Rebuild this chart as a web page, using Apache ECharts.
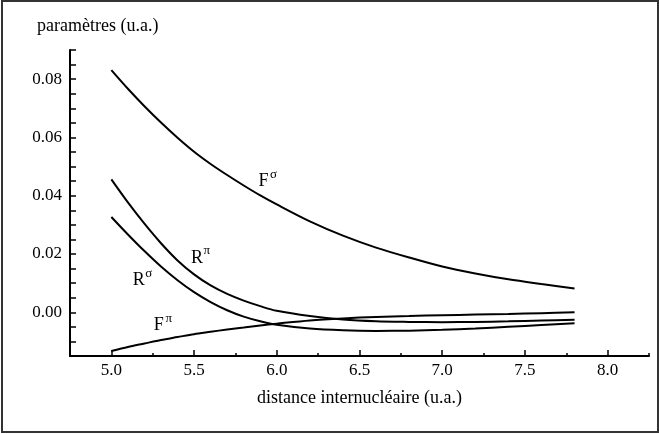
<!DOCTYPE html>
<html>
<head>
<meta charset="utf-8">
<script src="https://cdn.jsdelivr.net/npm/echarts@6/dist/echarts.min.js"></script>
<style>
  html, body { margin: 0; padding: 0; background: #fff; }
  #wrap { position: relative; width: 659px; height: 434px; }
  #chart { position: absolute; left: 0; top: 0; width: 659px; height: 434px; }
  #frame { position: absolute; left: 1px; top: 0; width: 654px; height: 429px; border: 2px solid #333; pointer-events: none; }
</style>
</head>
<body>
<div id="wrap"><div id="chart"></div><div id="frame"></div></div>
<script>
// ---- data ----
const distance = [5.0, 5.1, 5.2, 5.3, 5.4, 5.5, 5.6, 5.7, 5.8, 5.9, 6.0, 6.2, 6.4, 6.6, 6.8, 7.0, 7.2, 7.4, 7.6, 7.8];
const Fsigma = [0.0831, 0.0767, 0.0707, 0.0651, 0.0599, 0.0551, 0.0509, 0.0471, 0.0435, 0.0401, 0.0370, 0.0312, 0.0263, 0.0222, 0.0188, 0.0157, 0.0133, 0.0113, 0.0097, 0.0082];
const Rpi    = [0.0456, 0.0377, 0.0304, 0.0237, 0.0178, 0.0130, 0.0092, 0.0063, 0.0040, 0.0021, 0.0005, -0.0013, -0.0025, -0.0031, -0.0033, -0.0034, -0.0033, -0.0031, -0.0028, -0.0026];
const Rsigma = [0.0327, 0.0267, 0.0210, 0.0157, 0.0110, 0.0069, 0.0035, 0.0007, -0.0015, -0.0031, -0.0043, -0.0056, -0.0062, -0.0064, -0.0063, -0.0060, -0.0056, -0.0050, -0.0044, -0.0038];
const Fpi    = [-0.0133, -0.0119, -0.0107, -0.0095, -0.0085, -0.0075, -0.0067, -0.0059, -0.0052, -0.0045, -0.0039, -0.0028, -0.0021, -0.0016, -0.0013, -0.0010, -0.0008, -0.0006, -0.0003, 0.0000];
const xMajorTicks = [5.0, 5.5, 6.0, 6.5, 7.0, 7.5, 8.0];
const yLabelTicks = [0.00, 0.02, 0.04, 0.06, 0.08];
const seriesNames = ['Fσ', 'Rπ', 'Rσ', 'Fπ'];
const curveLabels = [
  { base: 'F', sup: 'σ' },
  { base: 'R', sup: 'π' },
  { base: 'R', sup: 'σ' },
  { base: 'F', sup: 'π' }
];
// label anchor positions (data coordinates of the base letter)
const labelAnchors = [[5.92, 0.0449], [5.517, 0.0187], [5.166, 0.0110], [5.287, -0.0046]];

// ---- chart ----
const FONT = 'Liberation Serif, Times New Roman, serif';
const pairs = a => distance.map((x, i) => [x, a[i]]);
const allValues = [Fsigma, Rpi, Rsigma, Fpi];

const chart = echarts.init(document.getElementById('chart'), null, { renderer: 'canvas' });

const series = allValues.map((vals, k) => ({
  name: seriesNames[k],
  type: 'line',
  data: pairs(vals),
  xAxisIndex: 0,
  yAxisIndex: 0,
  showSymbol: false,
  smooth: 0.3,
  lineStyle: { color: '#000', width: 2 },
  markPoint: {
    symbol: 'circle',
    symbolSize: 0,
    silent: true,
    data: [
      {
        coord: labelAnchors[k],
        label: { show: true, position: 'inside', formatter: curveLabels[k].base,
                 fontFamily: FONT, fontSize: 18, color: '#000' }
      },
      {
        coord: labelAnchors[k],
        label: { show: true, position: 'inside', formatter: curveLabels[k].sup, offset: [10, -7],
                 fontFamily: FONT, fontSize: 13, color: '#000' }
      }
    ]
  }
}));

const near = (v, arr) => arr.some(t => Math.abs(t - v) < 1e-9);

const option = {
  animation: false,
  backgroundColor: '#fff',
  textStyle: { fontFamily: FONT },
  grid: { left: 70, right: 10, top: 50, bottom: 78, containLabel: false },
  xAxis: [
    {
      type: 'value', position: 'bottom',
      min: 4.75, max: 8.25, interval: 0.25,
      name: 'distance internucléaire (u.a.)',
      nameLocation: 'middle', nameGap: 33,
      nameTextStyle: { fontFamily: FONT, fontSize: 18, color: '#000' },
      axisLine: { show: true, onZero: false, lineStyle: { color: '#000', width: 2 } },
      axisTick: { show: true, inside: true, length: 3, lineStyle: { color: '#000', width: 1.5 } },
      axisLabel: {
        show: true, margin: 6, color: '#000', fontFamily: FONT, fontSize: 17,
        formatter: v => near(v, xMajorTicks) ? v.toFixed(1) : ''
      },
      splitLine: { show: false }
    },
    {
      type: 'value', position: 'bottom', offset: 0,
      min: 4.75, max: 8.25, interval: 0.25,
      axisLine: { show: false, onZero: false },
      axisTick: { show: true, inside: true, length: 6, customValues: xMajorTicks, lineStyle: { color: '#000', width: 1.5 } },
      axisLabel: { show: false },
      splitLine: { show: false }
    }
  ],
  yAxis: [
    {
      type: 'value',
      min: -0.015, max: 0.09, interval: 0.005,
      name: 'paramètres (u.a.)',
      nameLocation: 'end', nameGap: 24,
      nameTextStyle: { fontFamily: FONT, fontSize: 18, color: '#000', align: 'left', verticalAlign: 'middle', padding: [0, 0, 0, -33] },
      axisLine: { show: true, onZero: false, lineStyle: { color: '#000', width: 2 } },
      axisTick: { show: true, inside: true, length: 6, lineStyle: { color: '#000', width: 1.5 } },
      axisLabel: {
        show: true, margin: 8, color: '#000', fontFamily: FONT, fontSize: 17,
        formatter: v => near(v, yLabelTicks) ? v.toFixed(2) : ''
      },
      splitLine: { show: false }
    }
  ],
  series: series
};

chart.setOption(option);
</script>
</body>
</html>
